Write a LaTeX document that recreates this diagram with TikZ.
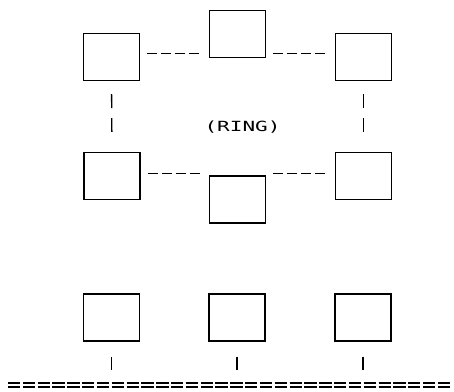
\documentclass[tikz,border=0pt]{standalone}
\usepackage{fontspec}
\usepackage{graphicx}
\newfontfamily\dotfont{DejaVu Sans Mono}
\usetikzlibrary{calc}
\begin{document}
\begin{tikzpicture}[x=1pt,y=-1pt,
  station/.style={draw=black,line width=1.4pt,minimum width=56pt,minimum height=47pt,inner sep=0pt},
  ringlink/.style={draw=black,line width=1pt,dash pattern=on 10pt off 4pt,shorten <=7pt,shorten >=8pt},
  vlink/.style={draw=black,line width=1.3pt,dash pattern=on 14pt off 10pt,shorten <=13pt,shorten >=20pt},
  tap/.style={draw=black,line width=1.3pt,shorten <=15pt,shorten >=15pt},
  busline/.style={draw=black,line width=1.2pt,dash pattern=on 12.32pt off 2.5pt}]
\useasboundingbox (0,0) rectangle (454,391);
% ring stations
\node[station] (tl) at (111.5,57) {};
\node[station] (tm) at (237.5,34) {};
\node[station] (tr) at (363.5,57) {};
\node[station] (ml) at (112,176) {};
\node[station] (mm) at (237.5,199.5) {};
\node[station] (mr) at (363.5,176) {};
% bus stations
\node[station] (bl) at (111.5,317.5) {};
\node[station] (bm) at (237,317.5) {};
\node[station] (br) at (363,317.5) {};
% label
\node[inner sep=0pt] (ring) at (242.5,127.5) {\scalebox{1.5}[1]{\dotfont\fontsize{14pt}{15pt}\selectfont (RING)}};
% ring links
\draw[ringlink] ([yshift=4pt]tl.east) -- ([yshift=4pt]tl.east -| tm.west);
\draw[ringlink] ([yshift=4pt]tr.west -| tm.east) -- ([yshift=4pt]tr.west);
\draw[ringlink] ([yshift=3pt]ml.east) -- ([yshift=3pt]ml.east -| mm.west);
\draw[ringlink] ([yshift=3pt]mr.west -| mm.east) -- ([yshift=3pt]mr.west);
\draw[vlink] (tl.south) -- (ml.north);
\draw[vlink] (tr.south) -- (mr.north);
% bus
\coordinate (busA) at (8,383);
\coordinate (busB) at (450,383);
\coordinate (busC) at (8,387);
\coordinate (busD) at (450,387);
\coordinate (busmid) at (8,385);
\draw[busline] (busA) -- (busB);
\draw[busline] (busC) -- (busD);
\draw[tap] (bl.south) -- (bl.south |- busmid);
\draw[tap] (bm.south) -- (bm.south |- busmid);
\draw[tap] (br.south) -- (br.south |- busmid);
\end{tikzpicture}
\end{document}
